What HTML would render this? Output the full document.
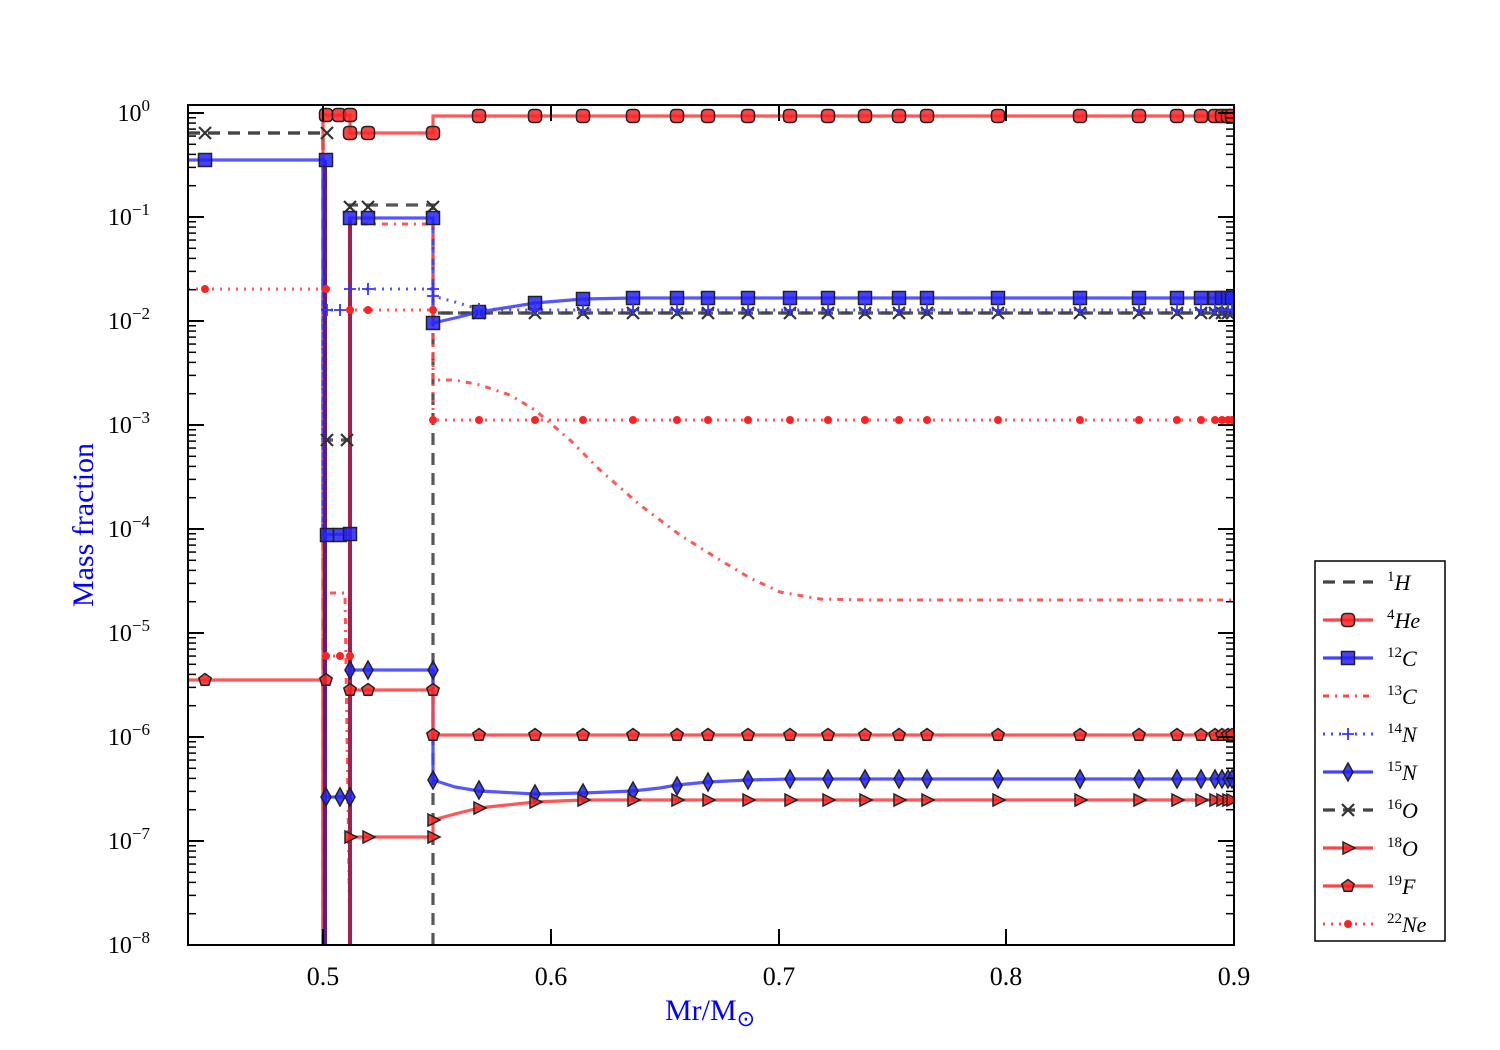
<!DOCTYPE html>
<html><head><meta charset="utf-8"><style>body{margin:0;background:#fff}svg{display:block}</style></head>
<body>
<svg id="s" width="1500" height="1050" xmlns="http://www.w3.org/2000/svg" font-family="Liberation Serif, serif">
<defs><clipPath id="cp"><rect x="188" y="105" width="1046" height="840"/></clipPath></defs>
<g id="plot" clip-path="url(#cp)"></g>
<rect x="188" y="105" width="1046" height="840" fill="none" stroke="#000" stroke-width="2"/>
<g id="ticks" stroke="#000"></g>
<g id="lab" font-size="24"></g>
<text x="710" y="1020" text-anchor="middle" font-size="30" fill="#0000ff">Mr/M<tspan font-size="22" dy="6">⊙</tspan></text>
<text transform="translate(93,525) rotate(-90)" text-anchor="middle" font-size="30" fill="#0000ff">Mass fraction</text>
<rect x="1315" y="561" width="130" height="380" fill="#fff" stroke="#000" stroke-width="1.5"/>
<g id="leg"></g>
</svg>
<script>
const NS="http://www.w3.org/2000/svg";
function el(p,t,a){const e=document.createElementNS(NS,t);for(const k in a)e.setAttribute(k,a[k]);p.appendChild(e);return e;}
const P=document.getElementById('plot'),T=document.getElementById('ticks'),L=document.getElementById('lab'),G=document.getElementById('leg');
for(let d=0;d<=8;d++){const y=113+d*104;
 el(T,'line',{x1:188,y1:y,x2:204,y2:y,'stroke-width':2});el(T,'line',{x1:1218,y1:y,x2:1234,y2:y,'stroke-width':2});
 const t=el(L,'text',{x:150,y:y+8,'text-anchor':'end'});t.innerHTML='10<tspan font-size="17" dy="-10">'+(d==0?'0':'−'+d)+'</tspan>';
 if(d<8)for(let m=2;m<=9;m++){const yy=y+104-104*Math.log10(m);el(T,'line',{x1:188,y1:yy,x2:196,y2:yy,'stroke-width':1.5});el(T,'line',{x1:1226,y1:yy,x2:1234,y2:yy,'stroke-width':1.5});}
}
[[323,'0.5'],[551,'0.6'],[779,'0.7'],[1006,'0.8'],[1234,'0.9']].forEach(([x,s])=>{
 el(T,'line',{x1:x,y1:945,x2:x,y2:929,'stroke-width':2});el(T,'line',{x1:x,y1:105,x2:x,y2:121,'stroke-width':2});
 const t=el(L,'text',{x:x,y:985,'text-anchor':'middle','font-size':26});t.textContent=s;});
const MX=[433,479,535,583,633,677,708,748,790,828,865,899,927,998,1080,1139,1177,1201,1215,1222,1228,1232];
function marker(g,type,x,y,fill){
 const st={fill:fill,stroke:'#222','stroke-width':1.5,'fill-opacity':0.85};
 if(type=='o')el(g,'rect',Object.assign({x:x-6.5,y:y-6.5,width:13,height:13,rx:4},st));
 else if(type=='s')el(g,'rect',Object.assign({x:x-6.5,y:y-6.5,width:13,height:13},st));
 else if(type=='d')el(g,'polygon',Object.assign({points:`${x},${y-9} ${x+5},${y} ${x},${y+9} ${x-5},${y}`},st));
 else if(type=='t')el(g,'polygon',Object.assign({points:`${x-5},${y-6} ${x+7},${y} ${x-5},${y+6}`},st));
 else if(type=='p'){let pts=[];for(let i=0;i<5;i++){const a=-Math.PI/2+i*2*Math.PI/5;pts.push((x+6.5*Math.cos(a))+','+(y+6.5*Math.sin(a)));}el(g,'polygon',Object.assign({points:pts.join(' ')},st));}
 else if(type=='x'){el(g,'path',{d:`M${x-6},${y-6}L${x+6},${y+6}M${x-6},${y+6}L${x+6},${y-6}`,stroke:'#333','stroke-width':2.2});}
 else if(type=='+'){el(g,'path',{d:`M${x-6},${y}L${x+6},${y}M${x},${y-6}L${x},${y+6}`,stroke:'#33f','stroke-width':1.8});}
 else if(type=='.'){el(g,'circle',{cx:x,cy:y,r:4,fill:'#f22'});}
}
const styles={
 H:{c:'#444',dash:'12 8',w:3.2},He:{c:'#f44',w:3.2},C12:{c:'#44f',w:3.2},C13:{c:'#f44',dash:'6 6 2 6',w:3},
 N14:{c:'#44f',dash:'2 6',w:3},N15:{c:'#44f',w:3.2},O16:{c:'#444',dash:'12 8',w:3.2},O18:{c:'#f44',w:3.2},F19:{c:'#f44',w:3.2},Ne:{c:'#f44',dash:'2 6',w:3}};
function line(k,pts){const s=styles[k];el(P,'polyline',{points:pts.map(p=>p.join(',')).join(' '),fill:'none',stroke:s.c,'stroke-width':s.w,'stroke-dasharray':s.dash||'','stroke-opacity':0.9});}
line('H',[[188,133],[323,133],[323,945]]);line('H',[[433,945],[433,313],[1234,313]]);
line('O16',[[188,133],[323,133],[323,440],[350,440],[350,205],[433,205],[433,313],[1234,313]]);
line('He',[[323,945],[323,115],[350,115],[350,133],[433,133],[433,116],[1234,116]]);
line('C12',[[188,160],[323,160],[323,535],[350,534],[350,218],[433,218],[433,323],[455,318],[479,312],[535,303],[583,299],[633,298],[1234,298]]);
line('C13',[[330,593],[345,593],[350,945],[350,224],[433,224],[433,380],[455,380],[480,385],[510,395],[535,410],[570,440],[600,470],[640,505],[680,535],[720,560],[750,578],[780,592],[820,599],[870,600],[1234,600]]);
line('N14',[[323,310],[350,310],[350,289],[433,289],[433,296],[455,302],[479,309],[520,310],[1234,310]]);
line('N15',[[323,945],[323,797],[350,797],[350,670],[433,670],[433,780],[455,787],[479,791],[535,794],[583,793],[633,791],[660,788],[677,785],[708,782],[748,780],[790,779],[1234,779]]);
line('O18',[[350,945],[350,837],[433,837],[433,820],[455,814],[479,808],[535,802],[583,800],[1234,800]]);
line('F19',[[188,680],[323,680],[323,945]]);line('F19',[[350,945],[350,690],[433,690],[433,735],[1234,735]]);
line('Ne',[[188,289],[323,289],[323,656],[350,656],[350,310],[433,310],[433,420],[1234,420]]);
el(P,'line',{x1:350,y1:220,x2:350,y2:945,stroke:'#a02050','stroke-width':4});
el(P,'line',{x1:325,y1:160,x2:325,y2:945,stroke:'#502090','stroke-width':4});
function mk(type,fill,list){list.forEach(([x,y])=>marker(P,type,x,y,fill));}
const tail=(y)=>MX.map(x=>[x,y]);
mk('x','#333',[[205,133],[327,133],[327,440],[347,440],[350,207],[368,207],[433,207]].concat(tail(313).slice(1)));
mk('o','#f22',[[326,115],[339,115],[350,115],[350,133],[368,133],[433,133]].concat(tail(116).slice(1)));
mk('s','#22f',[[205,160],[326,160],[327,535],[340,535],[350,534],[350,218],[368,218],[433,218],[433,323],[479,312],[535,303],[583,299]].concat(tail(298).slice(4)));
mk('+','#33f',[[327,310],[340,310],[350,289],[368,289],[433,289],[433,296],[479,309]].concat(tail(310).slice(2)));
const n15=[[433,780],[479,790],[535,794],[583,793],[633,791],[677,786],[708,782],[748,780]];
mk('d','#22f',[[326,797],[340,797],[350,797],[350,670],[368,670],[433,670]].concat(n15).concat(tail(779).slice(8)));
mk('t','#f22',[[350,837],[368,837],[433,837],[433,820],[479,808],[535,802]].concat(tail(800).slice(3)));
mk('p','#f22',[[205,680],[326,680],[350,690],[368,690],[433,690]].concat(tail(735)));
mk('.','#f22',[[205,289],[326,289],[326,656],[340,656],[350,656],[350,310],[368,310],[433,310]].concat(tail(420)));
const leg=[['H','1','H',null],['He','4','He','o'],['C12','12','C','s'],['C13','13','C',null],['N14','14','N','+'],['N15','15','N','d'],['O16','16','O','x'],['O18','18','O','t'],['F19','19','F','p'],['Ne','22','Ne','.']];
const fills={o:'#f22',s:'#22f',d:'#22f',t:'#f22',p:'#f22'};
leg.forEach(([k,sup,n,m],i)=>{const y=582+i*38;const s=styles[k];
 el(G,'line',{x1:1323,y1:y,x2:1373,y2:y,stroke:s.c,'stroke-width':s.w,'stroke-dasharray':s.dash||''});
 if(m)marker(G,m,1348,y,fills[m]||'#f22');
 const t=el(G,'text',{x:1387,y:y+8,'font-size':22});t.innerHTML='<tspan font-size="15" dy="-9">'+sup+'</tspan><tspan font-style="italic" dy="9">'+n+'</tspan>';});
</script>
</body></html>
